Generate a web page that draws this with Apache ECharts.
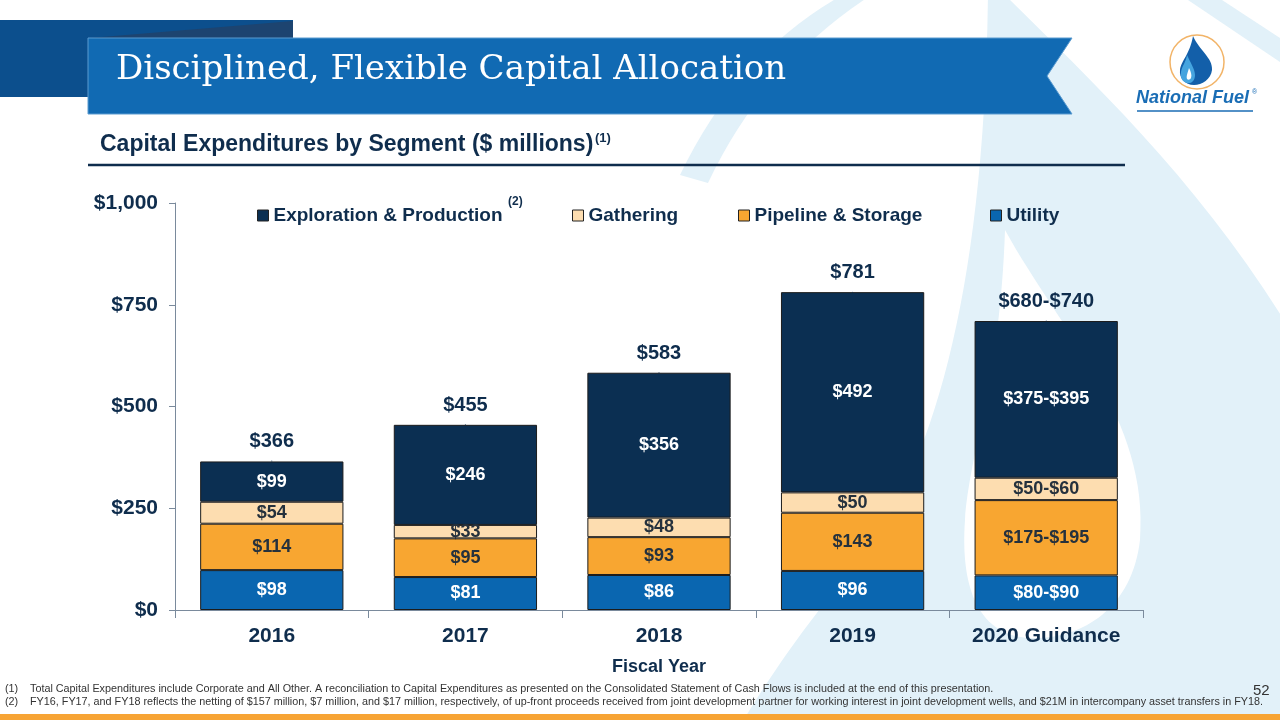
<!DOCTYPE html>
<html><head><meta charset="utf-8">
<script src="https://cdn.jsdelivr.net/npm/echarts/dist/echarts.min.js"></script>
<style>html,body{margin:0;padding:0;background:#fff}#c{width:1280px;height:720px}</style>
</head><body><div id="c"></div>
<script>
const categories = ['2016', '2017', '2018', '2019', '2020 Guidance'];
const utility = [98, 81, 86, 96, 85];
const pipeline = [114, 95, 93, 143, 185];
const gathering = [54, 33, 48, 50, 55];
const exploration = [99, 246, 356, 492, 385];
const totals = [366, 455, 583, 781, 710];
const utilityLabels = ['$98', '$81', '$86', '$96', '$80-$90'];
const pipelineLabels = ['$114', '$95', '$93', '$143', '$175-$195'];
const gatheringLabels = ['$54', '$33', '$48', '$50', '$50-$60'];
const explorationLabels = ['$99', '$246', '$356', '$492', '$375-$395'];
const totalLabels = ['$366', '$455', '$583', '$781', '$680-$740'];
const yTickLabels = ['$0', '$250', '$500', '$750', '$1,000'];
const seriesNames = ['Exploration & Production', 'Gathering', 'Pipeline & Storage', 'Utility'];

const NAVY = '#0f2d4d';
const FONT = 'Liberation Sans, Arial, sans-serif';
const colors = {ep: '#0b2f52', ga: '#fdddb0', pi: '#f8a631', ut: '#0a66b0'};
const pale = '#e2f1f9';

function barSeries(name, data, labels, color, labelColor) {
  return {
    name: name, type: 'bar', stack: 'total', data: data, barWidth: '74%', z: 3,
    itemStyle: {color: color, borderColor: '#1c1c1c', borderWidth: 1},
    label: {show: true, position: 'inside', color: labelColor, fontFamily: FONT,
      fontWeight: 'bold', fontSize: 18, formatter: p => labels[p.dataIndex]},
    emphasis: {disabled: true}
  };
}

const legendBase = {
  top: 201, icon: 'rect', itemWidth: 11, itemHeight: 11, itemGap: 0,
  textStyle: {color: NAVY, fontFamily: FONT, fontWeight: 'bold', fontSize: 19},
  itemStyle: {borderColor: '#222', borderWidth: 1}, selectedMode: false
};

function txt(x, y, text, size, color, weight, family, extra) {
  return {type: 'text', z: 20, x: x, y: y, silent: true,
    style: Object.assign({text: text, fill: color, fontSize: size, fontWeight: weight || 'normal',
      fontFamily: family || FONT}, extra || {})};
}

const watermarkPaths = [
  {d: 'M988,-10 L1000,-10 C1080,70 1200,180 1290,330 L1290,760 L720,760 C760,690 800,630 860,560 C930,470 985,300 988,-10 Z', fill: pale},
  {d: 'M1005,230 C1060,330 1150,420 1140,540 C1132,610 1080,640 1030,638 C980,636 960,590 965,520 C970,450 1000,380 1005,230 Z', fill: '#ffffff'},
  {d: 'M848,-8 Q740,50 680,175 L708,183 Q765,62 876,-8 Z', fill: pale},
  {d: 'M1188,0 L1222,0 L1280,38 L1280,62 Z', fill: pale}
];
const logoPaths = [
  {d: 'M1193,36 C1199,50 1213,58 1212,70 C1211,79 1202,85 1194,85 C1185,85 1179,78 1180,70 C1181,61 1190,54 1193,36 Z', fill: '#135fa9'},
  {d: 'M1187,55 C1190,62 1195,69 1195,75 C1195,81 1191,84 1187,83 C1182,82 1180,77 1181,72 C1182,66 1186,62 1187,55 Z', fill: '#45a4df'},
  {d: 'M1189,68 C1191,72 1192,75 1191,78 C1190,80 1188,80 1187,79 C1186,76 1188,72 1189,68 Z', fill: '#ffffff'}
];

const chart = echarts.init(document.getElementById('c'));
chart.setOption({
  animation: false,
  backgroundColor: '#ffffff',
  grid: {left: 175, right: 137, top: 203, bottom: 110, containLabel: false},
  legend: [
    Object.assign({}, legendBase, {left: 252, data: [seriesNames[0]]}),
    Object.assign({}, legendBase, {left: 567, data: [seriesNames[1]]}),
    Object.assign({}, legendBase, {left: 733, data: [seriesNames[2]]}),
    Object.assign({}, legendBase, {left: 985, data: [seriesNames[3]]})
  ],
  xAxis: {
    type: 'category', data: categories, z: 4,
    axisLine: {lineStyle: {color: '#7a8a9c', width: 1}},
    axisTick: {show: true, length: 8, lineStyle: {color: '#7a8a9c'}},
    axisLabel: {color: NAVY, fontFamily: FONT, fontWeight: 'bold', fontSize: 21, margin: 16},
    name: 'Fiscal Year', nameLocation: 'middle', nameGap: 48,
    nameTextStyle: {color: NAVY, fontFamily: FONT, fontWeight: 'bold', fontSize: 18}
  },
  yAxis: {
    type: 'value', min: 0, max: 1000, interval: 250, z: 4,
    axisLine: {show: true, lineStyle: {color: '#7a8a9c', width: 1}},
    axisTick: {show: true, length: 6, lineStyle: {color: '#7a8a9c'}},
    splitLine: {show: false},
    axisLabel: {color: NAVY, fontFamily: FONT, fontWeight: 'bold', fontSize: 21, margin: 17,
      formatter: v => yTickLabels[Math.round(v / 250)]}
  },
  series: [
    {
      type: 'custom', coordinateSystem: 'none', z: 0, silent: true, data: [0],
      renderItem: () => ({type: 'group', children: watermarkPaths.map(p => ({
        type: 'path', shape: {pathData: p.d}, style: {fill: p.fill}}))})
    },
    barSeries(seriesNames[3], utility, utilityLabels, colors.ut, '#ffffff'),
    barSeries(seriesNames[2], pipeline, pipelineLabels, colors.pi, '#25313d'),
    barSeries(seriesNames[1], gathering, gatheringLabels, colors.ga, '#25313d'),
    barSeries(seriesNames[0], exploration, explorationLabels, colors.ep, '#ffffff'),
    {
      name: 'Total', type: 'scatter', data: totals, symbolSize: 1, silent: true, z: 5,
      itemStyle: {color: NAVY, opacity: 1},
      label: {show: true, position: 'top', distance: 9, color: NAVY, opacity: 1, fontFamily: FONT,
        fontWeight: 'bold', fontSize: 20, formatter: p => totalLabels[p.dataIndex]}
    },
    {
      type: 'custom', coordinateSystem: 'none', z: 10, silent: true, data: [0],
      renderItem: () => ({type: 'group', children: [
        {type: 'circle', shape: {cx: 1197, cy: 62, r: 27}, style: {fill: '#ffffff', stroke: '#f2b468', lineWidth: 1.5}}
      ].concat(logoPaths.map(p => ({type: 'path', shape: {pathData: p.d}, style: {fill: p.fill}})))})
    }
  ],
  graphic: [
    {type: 'rect', z: 10, silent: true, shape: {x: 0, y: 20, width: 293, height: 77}, style: {fill: '#0c4f8d'}},
    {type: 'polygon', z: 11, silent: true, shape: {points: [[90, 38], [293, 21], [293, 38]]}, style: {fill: '#1d4470'}},
    {type: 'polygon', z: 12, silent: true, shape: {points: [[88, 38], [1072, 38], [1047, 76], [1072, 114], [88, 114]]},
      style: {fill: '#116ab3', stroke: '#5b9bd0', lineWidth: 1}},
    txt(116, 53, 'Disciplined, Flexible Capital Allocation', 34, '#ffffff', 'normal', '"DejaVu Serif", serif'),
    txt(1136, 89, 'National Fuel', 18, '#1a6db5', 'bold', FONT, {fontStyle: 'italic'}),
    txt(1252, 89, '®', 7, '#1a6db5'),
    {type: 'line', z: 20, silent: true, shape: {x1: 1137, y1: 111, x2: 1253, y2: 111}, style: {stroke: '#1a6db5', lineWidth: 1.5}},
    txt(100, 133, 'Capital Expenditures by Segment ($ millions)', 23, NAVY, 'bold'),
    txt(595, 132, '(1)', 13, NAVY, 'bold'),
    {type: 'line', z: 20, silent: true, shape: {x1: 88, y1: 165, x2: 1125, y2: 165}, style: {stroke: NAVY, lineWidth: 2.5}},
    txt(508, 196, '(2)', 12, NAVY, 'bold'),
    txt(5, 684, '(1)', 10.8, '#333333'),
    txt(30, 684, 'Total Capital Expenditures include Corporate and All Other. A reconciliation to Capital Expenditures as presented on the Consolidated Statement of Cash Flows is included at the end of this presentation.', 10.8, '#333333'),
    txt(5, 697, '(2)', 10.8, '#333333'),
    txt(30, 697, 'FY16, FY17, and FY18 reflects the netting of $157 million, $7 million, and $17 million, respectively, of up-front proceeds received from joint development partner for working interest in joint development wells, and $21M in intercompany asset transfers in FY18.', 10.8, '#333333'),
    txt(1253, 683, '52', 15, '#333333'),
    {type: 'rect', z: 20, silent: true, shape: {x: 0, y: 714, width: 1280, height: 6}, style: {fill: '#f7a434'}}
  ]
});
</script>
</body></html>
